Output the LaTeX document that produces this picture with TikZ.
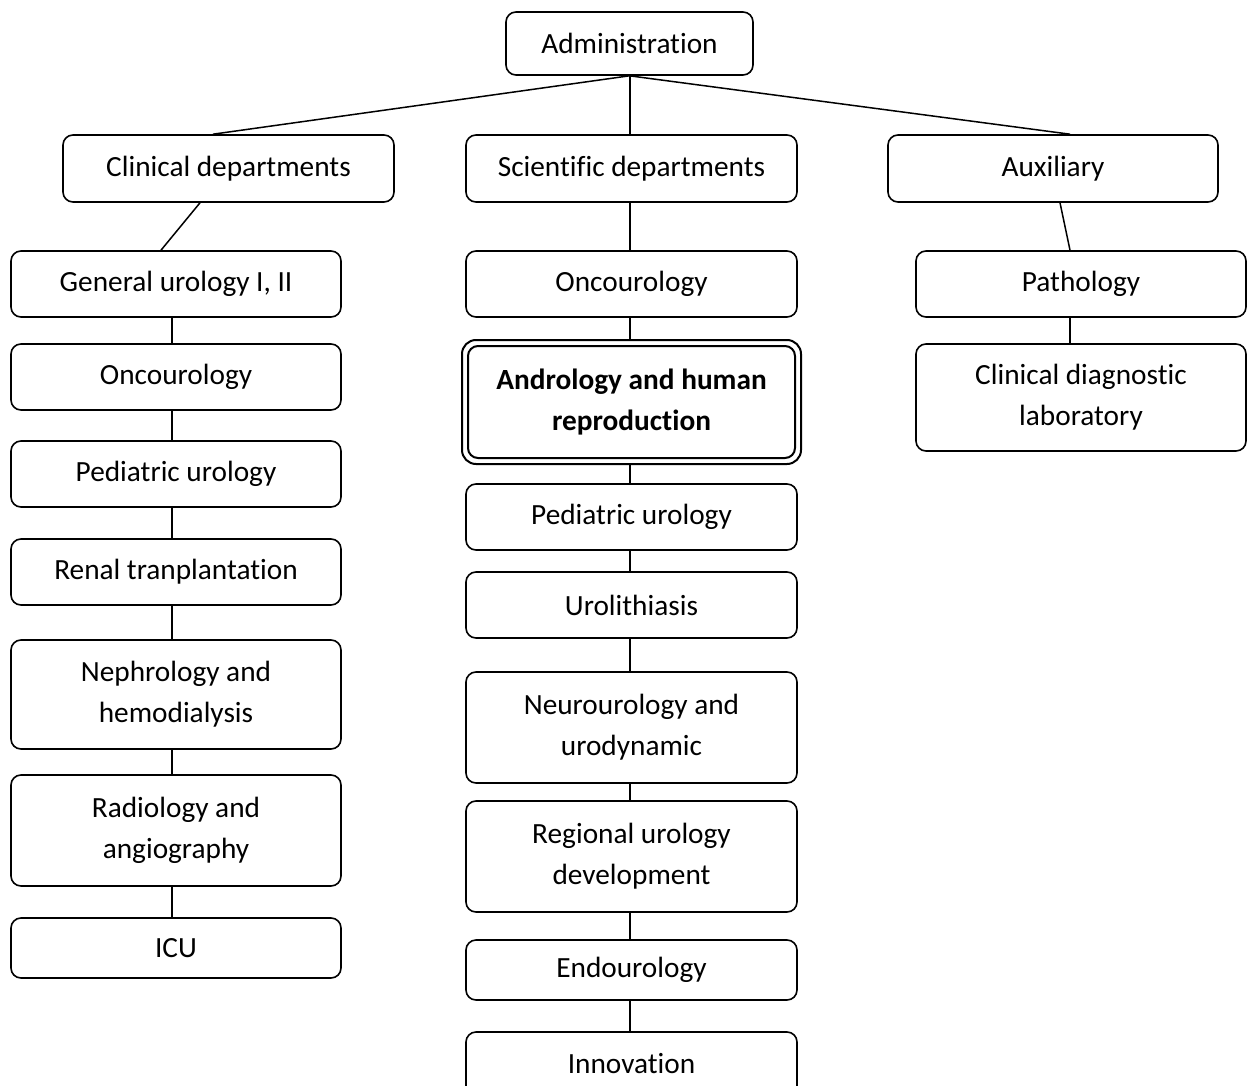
\documentclass[tikz,border=0pt]{standalone}
\usepackage{fontspec}
\setmainfont{Carlito}[Ligatures={NoCommon}]
\begin{document}
\begin{tikzpicture}[x=1pt,y=-1pt,
  box/.style={draw=black, line width=1.6pt, rounded corners=10pt, align=center,
    inner sep=0pt, font=\fontsize{29.3}{41}\selectfont},
  colbox/.style={box, minimum width=330pt},
  conn/.style={draw=black, line width=1.5pt}]
\useasboundingbox (0,0) rectangle (1247,1086);
\clip (0,0) rectangle (1247,1086);
\fill[white] (0,0) rectangle (1247,1086);
% top
\node[box, minimum width=247pt, minimum height=63pt] (admin) at (629.5,43.5) {Administration};
\node[colbox, minimum width=331pt, minimum height=67pt] (clin) at (228.5,168.5) {Clinical departments};
\node[colbox, minimum width=331pt, minimum height=67pt] (sci) at (631.5,168.5) {Scientific departments};
\node[colbox, minimum height=67pt] (aux) at (1053,168.5) {Auxiliary};
% left column
\node[colbox, minimum height=66pt] (gen) at (176,284) {General urology I, II};
\node[colbox, minimum height=66pt] (onca) at (176,377) {Oncourology};
\node[colbox, minimum height=66pt] (peda) at (176,474) {Pediatric urology};
\node[colbox, minimum height=66pt] (renal) at (176,572) {Renal tranplantation};
\node[colbox, minimum height=109pt] (neph) at (176,694.5) {Nephrology and\\hemodialysis};
\node[colbox, minimum height=111pt] (rad) at (176,830.5) {Radiology and\\angiography};
\node[colbox, minimum height=60pt] (icu) at (176,948) {ICU};
% middle column
\node[colbox, minimum width=331pt, minimum height=66pt] (oncb) at (631.5,284) {Oncourology};
\node[box, line width=2pt, minimum width=327pt, minimum height=112pt, font=\fontsize{29.3}{41}\selectfont\bfseries] (andro) at (631.5,402) {Andrology and human\\reproduction};
\draw[line width=2pt, rounded corners=14pt] ([shift={(-5pt,5pt)}]andro.north west) rectangle ([shift={(5pt,-5pt)}]andro.south east);
\node[colbox, minimum width=331pt, minimum height=66pt] (pedb) at (631.5,517) {Pediatric urology};
\node[colbox, minimum width=331pt, minimum height=66pt] (uro) at (631.5,605) {Urolithiasis};
\node[colbox, minimum width=331pt, minimum height=111pt] (neuro) at (631.5,727.5) {Neurourology and\\urodynamic};
\node[colbox, minimum width=331pt, minimum height=111pt] (reg) at (631.5,856.5) {Regional urology\\development};
\node[colbox, minimum width=331pt, minimum height=60pt] (endo) at (631.5,970) {Endourology};
\node[colbox, minimum width=331pt, minimum height=64pt] (innov) at (631.5,1064) {Innovation};
% right column
\node[colbox, minimum height=66pt] (path) at (1081,284) {Pathology};
\node[colbox, minimum height=107pt] (cdl) at (1081,397.5) {Clinical diagnostic\\laboratory};
% connectors
\draw[conn] (admin.south) -- ([xshift=-15.5pt]clin.north);
\draw[conn] (admin.south) -- ([xshift=17pt]aux.north);
\draw[conn] ([xshift=-1.5pt]sci.north |- admin.south) -- ([xshift=-1.5pt]sci.north);
\draw[conn] ([xshift=-28.5pt]clin.south) -- ([xshift=-15pt]gen.north);
\draw[conn] ([xshift=7pt]aux.south) -- ([xshift=-11pt]path.north);
\foreach \a/\b in {gen/onca, onca/peda, peda/renal, renal/neph, neph/rad, rad/icu}
  \draw[conn] ([xshift=-4pt]\a.south) -- ([xshift=-4pt]\b.north);
\foreach \a/\b in {sci/oncb, pedb/uro, uro/neuro, neuro/reg, reg/endo, endo/innov}
  \draw[conn] ([xshift=-1.5pt]\a.south) -- ([xshift=-1.5pt]\b.north);
\draw[conn] ([xshift=-1.5pt]oncb.south) -- ([xshift=-1.5pt,yshift=5pt]andro.north);
\draw[conn] ([xshift=-1.5pt,yshift=-5pt]andro.south) -- ([xshift=-1.5pt]pedb.north);
\draw[conn] ([xshift=-11pt]path.south) -- ([xshift=-11pt]cdl.north);
\end{tikzpicture}
\end{document}
